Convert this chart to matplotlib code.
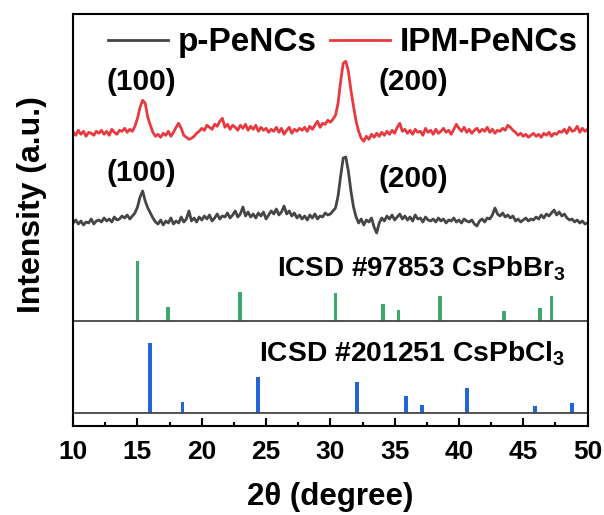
import numpy as np
import matplotlib.pyplot as plt
from matplotlib.ticker import MultipleLocator

plt.rcParams['font.family'] = ['Liberation Sans', 'DejaVu Sans']
plt.rcParams['font.weight'] = 'bold'
plt.rcParams['axes.labelweight'] = 'bold'
plt.rcParams['mathtext.default'] = 'regular'

# 2theta grid, 0.2 degree step
two_theta = np.linspace(10, 50, 201)

# IPM-PeNCs (red), a.u. above its own baseline
ipm = [1, -2, 3, -1, 2, -3, 1, 0, -2, 2,
       0, 3, -1, 2, -2, 4, 1, -1, 3, 2,
       5, 1, 4, 2, 7, 15, 26, 33, 30, 16,
       8, 1, -3, -1, -4, 0, -2, 2, -3, 1,
       6, 10, 5, -2, -4, -6, -5, -3, 0, 2,
       5, 3, 8, 6, 4, 9, 7, 12, 15, 6,
       9, 4, 8, 6, 3, 8, 5, 9, 3, 7,
       4, 8, 2, 6, 3, 5, 1, 4, 2, 6,
       1, 5, -1, 3, 6, 0, 4, 2, 5, 3,
       6, 2, 7, 4, 8, 12, 6, 10, 9, 13,
       11, 14, 18, 30, 52, 70, 72, 62, 43, 27,
       12, 2, -5, -8, -3, -6, -1, -4, 0, -3,
       1, -2, 2, -1, 3, 0, 6, 10, 2, 4,
       0, 3, -1, 4, 1, 2, -2, 5, 1, 3,
       -1, 4, 0, 2, 5, 1, 3, -1, 4, 9,
       5, 2, 6, 1, 4, 0, 3, 5, 1, 4,
       2, 6, 1, 4, 0, 3, 2, 5, 3, 8,
       6, 3, 1, -2, 0, -3, -1, -4, -2, 0,
       -3, -1, -4, 0, -2, 1, -3, 0, -1, 2,
       1, 4, 0, 6, 2, 3, 7, 1, 5, 2,
       4]

# p-PeNCs (dark grey)
pristine = [-2, 1, -3, 0, -4, -1, -2, 2, -3, 0,
            1, -1, 3, 0, 2, -1, 4, 1, 2, 5,
            3, 6, 2, 5, 8, 14, 24, 30, 20, 13,
            8, 3, -1, -3, 1, -4, 0, -2, 3, -3,
            0, -2, 4, -1, 2, 10, 0, 3, -1, 4,
            1, 5, 2, 6, 0, 3, 7, 2, 5, 4,
            8, 3, 6, 10, 4, 7, 14, 5, 9, 4,
            7, 3, 8, 5, 9, 2, 6, 10, 7, 12,
            6, 9, 15, 7, 10, 5, 8, 3, 6, 2,
            5, 1, 6, 3, 7, 2, 5, 4, 8, 6,
            7, 10, 13, 25, 45, 63, 64, 50, 30, 14,
            4, -2, 2, -4, 1, -1, 3, -6, -12, -2,
            3, 0, 5, 2, 6, 1, 4, 7, 2, 5,
            1, 4, 0, 6, 2, 3, -1, 4, 1, 0,
            2, -1, 3, 0, 2, -2, 1, 0, 3, -1,
            1, -2, 2, 0, -1, 1, -3, -5, 0, 2,
            -1, 3, 2, 6, 13, 7, 5, 8, 4, 6,
            3, 5, 0, 2, -1, 1, 3, 0, 2, 1,
            4, 2, 6, 3, 7, 5, 8, 11, 6, 9,
            5, 7, 3, 1, 2, -1, 1, -2, 0, -3,
            -2]

# reference patterns
br_pos = [15.0, 17.4, 23.0, 30.4, 34.1, 35.3, 38.5, 43.5, 46.3, 47.2]
br_int = [60, 14, 29, 28, 17, 11, 25, 10, 13, 25]
cl_pos = [16.0, 18.5, 24.4, 32.1, 35.9, 37.15, 40.6, 45.9, 48.8]
cl_int = [70, 11, 36, 31, 17, 8, 25, 7, 10]

# vertical offsets of the stacked patterns
off_ipm = 292.4
off_p = 204.7
off_br = 104.7
off_cl = 12.4

fig = plt.figure(figsize=(6.04, 5.15), dpi=100)
ax = fig.add_axes([0.1212, 0.1734, 0.8515, 0.8002])

ax.plot(two_theta, np.array(pristine) + off_p, color='#454545', lw=2.0, label='p-PeNCs')
ax.plot(two_theta, np.array(ipm) + off_ipm, color='#e8393f', lw=2.0, label='IPM-PeNCs')

ax.bar(br_pos, br_int, width=0.3, bottom=off_br, color='#3daa6c')
ax.bar(cl_pos, cl_int, width=0.3, bottom=off_cl, color='#2166d4')
ax.axhline(off_br, color='#444444', lw=1.3)
ax.axhline(off_cl, color='#444444', lw=1.3)

ax.text(15.31, 343.7, '(100)', fontsize=21.5, ha='center', va='center')
ax.text(36.46, 343.7, '(200)', fontsize=21.5, ha='center', va='center')
ax.text(15.31, 252.7, '(100)', fontsize=21.5, ha='center', va='center')
ax.text(36.46, 246.7, '(200)', fontsize=21.5, ha='center', va='center')
ax.text(48.25, 148.7, 'ICSD #97853 CsPbBr$_3$', fontsize=20, ha='right', va='baseline')
ax.text(48.25, 63.7, 'ICSD #201251 CsPbCl$_3$', fontsize=20.3, ha='right', va='baseline')

ax.set_xlim(10, 50)
ax.set_ylim(0, 412.1)
ax.set_yticks([])
ax.set_xticks(range(10, 51, 5))
ax.xaxis.set_minor_locator(MultipleLocator(2.5))
ax.tick_params(axis='x', which='major', direction='in', length=6, width=1.5,
               labelsize=19, pad=10)
ax.tick_params(axis='x', which='minor', direction='in', length=3, width=1.5)
for sp in ax.spines.values():
    sp.set_linewidth(1.5)

ax.set_xlabel('2θ (degree)', fontsize=22.5, fontweight='bold', va='center')
ax.xaxis.set_label_coords(0.4996, -0.174)
ax.set_ylabel('Intensity (a.u.)', fontsize=23, fontweight='bold', va='center')
ax.yaxis.set_label_coords(-0.08, 0.536)

ax.legend(loc='center', bbox_to_anchor=(0.5246, 0.929), ncol=2, frameon=False,
          fontsize=24, handlelength=1.8, handletextpad=0.3, columnspacing=0.4,
          borderpad=0, borderaxespad=0)

fig.savefig('out.png', dpi=100)
